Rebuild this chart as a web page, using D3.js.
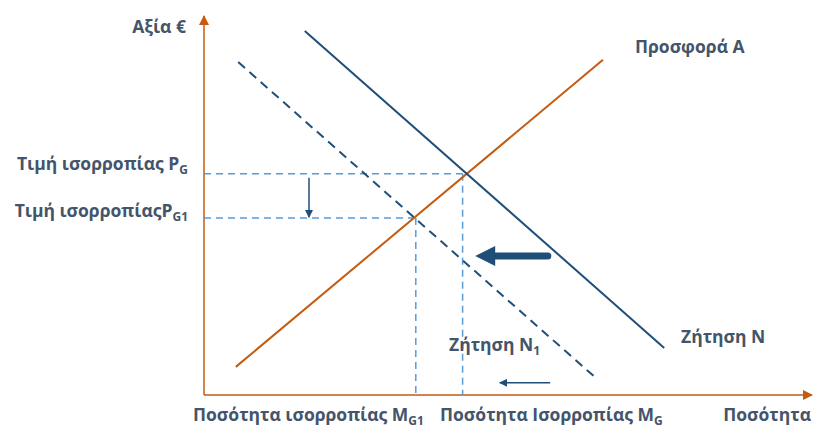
<!DOCTYPE html>
<html lang="en">
<head>
<meta charset="UTF-8">
<title>Προσφορά και Ζήτηση</title>
<script src="https://d3js.org/d3.v7.min.js"></script>
<style>
  body { margin: 0; background: #fff; }
  text { font-family: "Open Sans", sans-serif; font-weight: bold; fill: #44546A; }
</style>
</head>
<body>
<svg id="chart" width="814" height="430"></svg>
<script>
// curves as [quantity, price] end points (0-100 units)
const supplyA = [[5.3, 7.4], [66.5, 88.2]];
const demandN = [[16.8, 95.8], [76.7, 12.4]];
const demandN1 = [[5.7, 87.6], [65.3, 4.5]];
// equilibria
const eqG = {q: 43.1, p: 58.2};
const eqG1 = {q: 35.3, p: 46.6};
// shift arrows: [from q, to q, at p]
const shiftBig = [57.3, 45.2, 36.6];
const shiftSmall = [57.7, 49.3, 3.2];
const priceDrop = [17.5, 57.2, 46.8]; // q, from p, to p

const svg = d3.select('#chart');
const x = d3.scaleLinear().domain([0, 100]).range([204, 804]);
const y = d3.scaleLinear().domain([0, 100]).range([395, 15]);

const orange = '#C55A11', navy = '#1F4E79', light = '#5B9BD5';

const defs = svg.append('defs');
function head(id, color, w, h) {
    defs.append('marker').attr('id', id)
        .attr('viewBox', '0 0 10 10').attr('refX', 9).attr('refY', 5)
        .attr('markerUnits', 'userSpaceOnUse')
        .attr('markerWidth', w).attr('markerHeight', h).attr('orient', 'auto')
        .append('path').attr('d', 'M0,0L10,5L0,10z').attr('fill', color);
}
head('axisHead', orange, 10, 10);
head('smallHead', navy, 9, 8);

const line = d3.line().x(d => x(d[0])).y(d => y(d[1]));

// axes
svg.append('line').attr('x1', x(0)).attr('y1', y(0)).attr('x2', x(0)).attr('y2', 16)
    .attr('stroke', orange).attr('stroke-width', 1.5).attr('marker-end', 'url(#axisHead)');
svg.append('line').attr('x1', x(0)).attr('y1', y(0)).attr('x2', 812).attr('y2', y(0))
    .attr('stroke', orange).attr('stroke-width', 1.5).attr('marker-end', 'url(#axisHead)');

// guide lines
[eqG, eqG1].forEach(e => {
    svg.append('path').attr('d', line([[0, e.p], [e.q, e.p]]))
        .attr('stroke', light).attr('stroke-width', 1.5).attr('stroke-dasharray', '7,5').attr('fill', 'none');
    svg.append('path').attr('d', line([[e.q, e.p], [e.q, 0]]))
        .attr('stroke', light).attr('stroke-width', 1.5).attr('stroke-dasharray', '7,5').attr('fill', 'none');
});

// curves
svg.append('path').attr('d', line(supplyA)).attr('stroke', orange).attr('stroke-width', 2).attr('fill', 'none');
svg.append('path').attr('d', line(demandN)).attr('stroke', navy).attr('stroke-width', 2).attr('fill', 'none');
svg.append('path').attr('d', line(demandN1)).attr('stroke', navy).attr('stroke-width', 2)
    .attr('stroke-dasharray', '9,6').attr('fill', 'none');

// arrows
svg.append('line').attr('x1', x(priceDrop[0])).attr('y1', y(priceDrop[1]))
    .attr('x2', x(priceDrop[0])).attr('y2', y(priceDrop[2]))
    .attr('stroke', navy).attr('stroke-width', 1.5).attr('marker-end', 'url(#smallHead)');
svg.append('line').attr('x1', x(shiftSmall[0])).attr('y1', y(shiftSmall[2]))
    .attr('x2', x(shiftSmall[1])).attr('y2', y(shiftSmall[2]))
    .attr('stroke', navy).attr('stroke-width', 1.5).attr('marker-end', 'url(#smallHead)');
svg.append('line').attr('x1', x(shiftBig[0])).attr('y1', y(shiftBig[2]))
    .attr('x2', x(shiftBig[1]) + 16).attr('y2', y(shiftBig[2]))
    .attr('stroke', navy).attr('stroke-width', 7).attr('stroke-linecap', 'round');
svg.append('path')
    .attr('d', `M${x(shiftBig[1])},${y(shiftBig[2])}l20,-10l0,20z`)
    .attr('fill', navy);

// labels
function label(px, py, anchor, main, sub) {
    const t = svg.append('text').attr('x', px).attr('y', py).attr('text-anchor', anchor)
        .attr('font-size', 17.5).text(main);
    if (sub) t.append('tspan').attr('font-size', 12).attr('dy', 4).text(sub);
    return t;
}
label(186, 33, 'end', 'Αξία €');
label(188, 170, 'end', 'Τιμή ισορροπίας P', 'G');
label(188, 217, 'end', 'Τιμή ισορροπίαςP', 'G1');
label(635, 53, 'start', 'Προσφορά A');
label(681, 343, 'start', 'Ζήτηση N');
label(449, 351, 'start', 'Ζήτηση N', '1');
label(193, 421, 'start', 'Ποσότητα ισορροπίας M', 'G1');
label(440, 421, 'start', 'Ποσότητα Ισορροπίας M', 'G');
label(811, 421, 'end', 'Ποσότητα');
</script>
</body>
</html>
